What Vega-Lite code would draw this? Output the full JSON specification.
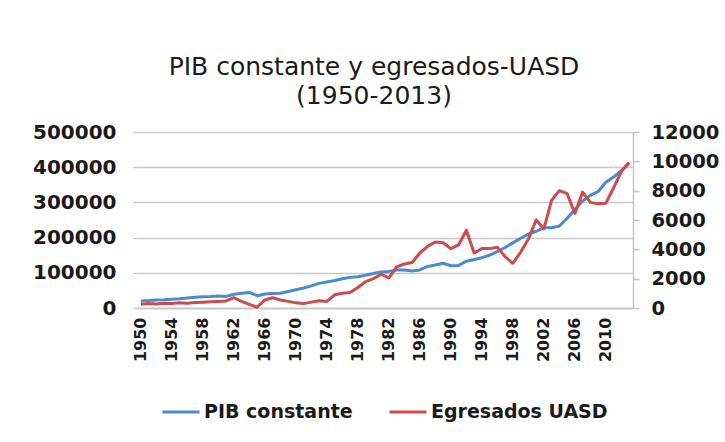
{
  "$schema": "https://vega.github.io/schema/vega-lite/v6.json",
  "autosize": {"type": "none"},
  "width": 496,
  "height": 176,
  "padding": {"left": 137, "top": 132, "right": 92, "bottom": 134},
  "background": "white",
  "title": {
    "text": ["PIB constante y egresados-UASD", "(1950-2013)"],
    "font": "DejaVu Sans",
    "fontSize": 25,
    "fontWeight": "normal",
    "color": "#1a1a1a",
    "lineHeight": 29,
    "anchor": "middle",
    "frame": "group",
    "dx": -11,
    "offset": 13
  },
  "data": {
    "values": [
      {"year": 1950, "pib": 20000, "egr": 250},
      {"year": 1951, "pib": 21000, "egr": 300},
      {"year": 1952, "pib": 23000, "egr": 280},
      {"year": 1953, "pib": 23500, "egr": 320},
      {"year": 1954, "pib": 25000, "egr": 300},
      {"year": 1955, "pib": 26500, "egr": 350},
      {"year": 1956, "pib": 28500, "egr": 330},
      {"year": 1957, "pib": 30500, "egr": 380},
      {"year": 1958, "pib": 32000, "egr": 400},
      {"year": 1959, "pib": 32500, "egr": 420},
      {"year": 1960, "pib": 34000, "egr": 450},
      {"year": 1961, "pib": 33000, "egr": 480},
      {"year": 1962, "pib": 39000, "egr": 700},
      {"year": 1963, "pib": 42000, "egr": 450},
      {"year": 1964, "pib": 44000, "egr": 250},
      {"year": 1965, "pib": 35000, "egr": 50},
      {"year": 1966, "pib": 40000, "egr": 550},
      {"year": 1967, "pib": 41000, "egr": 700},
      {"year": 1968, "pib": 42000, "egr": 550},
      {"year": 1969, "pib": 47000, "egr": 450},
      {"year": 1970, "pib": 52000, "egr": 350},
      {"year": 1971, "pib": 57000, "egr": 300},
      {"year": 1972, "pib": 63000, "egr": 400},
      {"year": 1973, "pib": 70000, "egr": 500},
      {"year": 1974, "pib": 74000, "egr": 450},
      {"year": 1975, "pib": 78000, "egr": 900},
      {"year": 1976, "pib": 83000, "egr": 1000},
      {"year": 1977, "pib": 87000, "egr": 1050},
      {"year": 1978, "pib": 89000, "egr": 1400},
      {"year": 1979, "pib": 93000, "egr": 1800},
      {"year": 1980, "pib": 98000, "egr": 2000},
      {"year": 1981, "pib": 102000, "egr": 2300},
      {"year": 1982, "pib": 104000, "egr": 2050},
      {"year": 1983, "pib": 108000, "egr": 2800},
      {"year": 1984, "pib": 108000, "egr": 3000},
      {"year": 1985, "pib": 105000, "egr": 3100},
      {"year": 1986, "pib": 108000, "egr": 3750},
      {"year": 1987, "pib": 118000, "egr": 4200},
      {"year": 1988, "pib": 122000, "egr": 4500},
      {"year": 1989, "pib": 127000, "egr": 4450},
      {"year": 1990, "pib": 120000, "egr": 4050},
      {"year": 1991, "pib": 121000, "egr": 4300},
      {"year": 1992, "pib": 133000, "egr": 5300},
      {"year": 1993, "pib": 138000, "egr": 3750},
      {"year": 1994, "pib": 143000, "egr": 4050},
      {"year": 1995, "pib": 150000, "egr": 4050},
      {"year": 1996, "pib": 160000, "egr": 4150},
      {"year": 1997, "pib": 172000, "egr": 3500},
      {"year": 1998, "pib": 185000, "egr": 3050},
      {"year": 1999, "pib": 198000, "egr": 3800},
      {"year": 2000, "pib": 210000, "egr": 4700},
      {"year": 2001, "pib": 218000, "egr": 6000},
      {"year": 2002, "pib": 228000, "egr": 5400},
      {"year": 2003, "pib": 228000, "egr": 7350},
      {"year": 2004, "pib": 233000, "egr": 8000},
      {"year": 2005, "pib": 255000, "egr": 7800},
      {"year": 2006, "pib": 280000, "egr": 6450},
      {"year": 2007, "pib": 304000, "egr": 7900},
      {"year": 2008, "pib": 320000, "egr": 7200},
      {"year": 2009, "pib": 331000, "egr": 7100},
      {"year": 2010, "pib": 357000, "egr": 7150},
      {"year": 2011, "pib": 372000, "egr": 8200},
      {"year": 2012, "pib": 390000, "egr": 9300},
      {"year": 2013, "pib": 413000, "egr": 9900}
    ]
  },
  "encoding": {
    "x": {
      "field": "year",
      "type": "quantitative",
      "scale": {"domain": [1949.5, 2013.5], "nice": false, "zero": false},
      "axis": {
        "title": null,
        "values": [1950, 1954, 1958, 1962, 1966, 1970, 1974, 1978, 1982, 1986, 1990, 1994, 1998, 2002, 2006, 2010],
        "format": "d",
        "labelAngle": 270,
        "labelFont": "DejaVu Sans",
        "labelFontWeight": "bold",
        "labelFontSize": 16,
        "labelColor": "#1a1a1a",
        "labelPadding": 9,
        "ticks": false,
        "grid": false,
        "domain": true,
        "domainColor": "#c4c4c4",
        "domainWidth": 1.5,
        "labelOverlap": false
      }
    }
  },
  "layer": [
    {
      "mark": {"type": "line", "strokeWidth": 3, "strokeJoin": "round"},
      "encoding": {
        "y": {
          "field": "pib",
          "type": "quantitative",
          "scale": {"domain": [0, 500000], "nice": false},
          "axis": {
            "title": null,
            "orient": "left",
            "values": [0, 100000, 200000, 300000, 400000, 500000],
            "format": "d",
            "labelFont": "DejaVu Sans",
            "labelFontWeight": "bold",
            "labelFontSize": 20,
            "labelColor": "#1a1a1a",
            "labelPadding": 17,
            "ticks": true,
            "tickSize": 4,
            "tickColor": "#c8c8c8",
            "tickWidth": 1.5,
            "domain": false,
            "grid": true,
            "gridColor": "#c8c8c8",
            "gridWidth": 1.5
          }
        },
        "color": {"datum": "PIB constante", "type": "nominal"}
      }
    },
    {
      "mark": {"type": "line", "strokeWidth": 3, "strokeJoin": "round"},
      "encoding": {
        "y": {
          "field": "egr",
          "type": "quantitative",
          "scale": {"domain": [0, 12000], "nice": false},
          "axis": {
            "title": null,
            "orient": "right",
            "values": [0, 2000, 4000, 6000, 8000, 10000, 12000],
            "format": "d",
            "labelFont": "DejaVu Sans",
            "labelFontWeight": "bold",
            "labelFontSize": 19.5,
            "labelColor": "#1a1a1a",
            "labelPadding": 12,
            "ticks": true,
            "tickSize": 6,
            "tickColor": "#c4c4c4",
            "tickWidth": 1.5,
            "domain": true,
            "domainColor": "#c4c4c4",
            "domainWidth": 1.5,
            "grid": false
          }
        },
        "color": {"datum": "Egresados UASD", "type": "nominal"}
      }
    }
  ],
  "resolve": {"scale": {"y": "independent"}},
  "config": {
    "view": {"stroke": null},
    "range": {"category": ["#4a8bd0", "#cf4a4a"]},
    "legend": {
      "orient": "none",
      "legendX": 24,
      "legendY": 260,
      "direction": "horizontal",
      "title": null,
      "symbolType": "stroke",
      "symbolSize": 1369,
      "symbolStrokeWidth": 3,
      "labelFont": "DejaVu Sans",
      "labelFontWeight": "bold",
      "labelFontSize": 19,
      "labelLimit": 400,
      "labelColor": "#1a1a1a",
      "labelOffset": 3,
      "columnPadding": 30
    }
  }
}
